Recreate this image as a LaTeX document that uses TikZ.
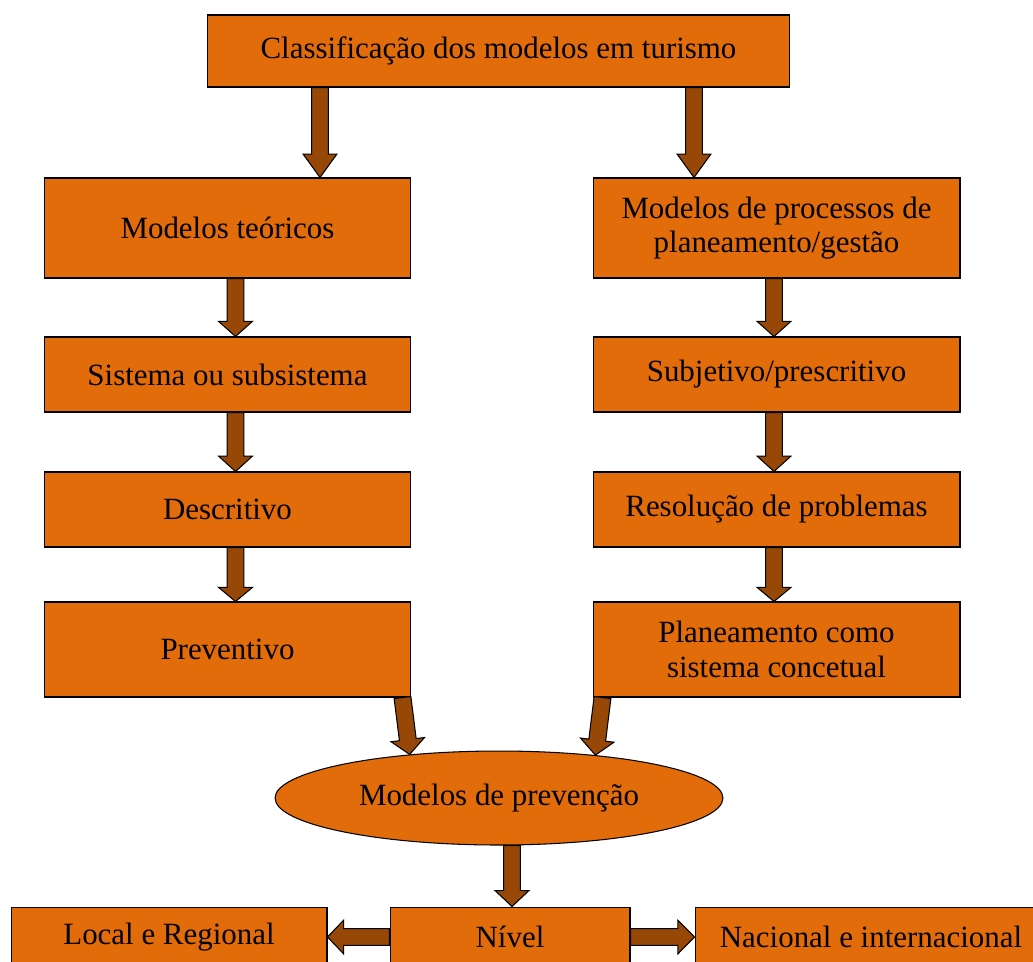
\documentclass[tikz,border=0pt]{standalone}
\usepackage{fontspec}
\setmainfont{Liberation Serif}
\usetikzlibrary{calc,shapes.geometric}

\definecolor{boxorange}{HTML}{E36C0A}
\definecolor{arrowbrown}{HTML}{984806}

\tikzset{
  box/.style={draw=black,line width=0.6pt,fill=boxorange,align=center,
    inner sep=0pt,font=\fontsize{17.6}{19.5}\selectfont},
  fatarrow/.style={draw=black,line width=0.6pt,fill=arrowbrown,line join=miter}
}

% block arrow from #1 to #2
\newcommand\fatarrow[2]{%
  \path[fatarrow] let \p1=(#1), \p2=(#2),
      \n1={atan2(\y2-\y1,\x2-\x1)}, \n2={veclen(\x2-\x1,\y2-\y1)},
      \n3={0.26*\n2} in
    [shift={(\p1)},rotate=\n1]
    (0pt,4.8pt) -- (\n2-\n3,4.8pt) -- (\n2-\n3,9.6pt) -- (\n2,0pt)
    -- (\n2-\n3,-9.6pt) -- (\n2-\n3,-4.8pt) -- (0pt,-4.8pt) -- cycle;}

\begin{document}
\begin{tikzpicture}[x=0.02cm,y=-0.02cm]
      \clip (0,0) rectangle (1033,961);

      \node[box,minimum width=11.66cm,minimum height=1.44cm] (classif) at (498.5,51)
        {Classificação dos modelos em turismo};

      % left column
      \node[box,minimum width=7.34cm,minimum height=2cm] (teoricos) at (227.5,228)
        {Modelos teóricos};
      \node[box,minimum width=7.34cm,minimum height=1.5cm] (sistema) at (227.5,374.5)
        {Sistema ou subsistema};
      \node[box,minimum width=7.34cm,minimum height=1.5cm] (descritivo) at (227.5,509.5)
        {Descritivo};
      \node[box,minimum width=7.34cm,minimum height=1.9cm] (preventivo) at (227.5,649.5)
        {Preventivo};

      % right column
      \node[box,minimum width=7.34cm,minimum height=2cm] (processos) at (776.5,228)
        {Modelos de processos de\\planeamento/gestão};
      \node[box,minimum width=7.34cm,minimum height=1.5cm] (subjetivo) at (776.5,374.5)
        {Subjetivo/prescritivo};
      \node[box,minimum width=7.34cm,minimum height=1.5cm] (resolucao) at (776.5,509.5)
        {Resolução de problemas};
      \node[box,minimum width=7.34cm,minimum height=1.9cm] (planeamento) at (776.5,649.5)
        {Planeamento como\\sistema concetual};

      \node[box,ellipse,minimum width=8.96cm,minimum height=1.88cm] (prevencao) at (499,798)
        {Modelos de prevenção};

      % bottom row
      \node[box,minimum width=6.32cm,minimum height=1.2cm] (local) at (169,937)
        {Local e Regional};
      \node[box,minimum width=4.8cm,minimum height=1.2cm] (nivel) at (510,937)
        {Nível};
      \node[box,minimum width=7.04cm,minimum height=1.2cm] (nacional) at (871,937)
        {Nacional e internacional};

      \coordinate (colA) at (320,0);
      \coordinate (colB) at (694,0);
      \coordinate (colC) at (235.5,0);
      \coordinate (colD) at (774,0);
      \coordinate (colE) at (512,0);

      \fatarrow{classif.south -| colA}{teoricos.north -| colA}
      \fatarrow{classif.south -| colB}{processos.north -| colB}
      \fatarrow{teoricos.south -| colC}{sistema.north -| colC}
      \fatarrow{sistema.south -| colC}{descritivo.north -| colC}
      \fatarrow{descritivo.south -| colC}{preventivo.north -| colC}
      \fatarrow{processos.south -| colD}{subjetivo.north -| colD}
      \fatarrow{subjetivo.south -| colD}{resolucao.north -| colD}
      \fatarrow{resolucao.south -| colD}{planeamento.north -| colD}
      \fatarrow{$(preventivo.south east)+(-9,0)$}{prevencao.154}
      \fatarrow{$(planeamento.south west)+(10,0)$}{prevencao.24}
      \fatarrow{prevencao.south -| colE}{nivel.north -| colE}
      \fatarrow{nivel.west}{local.east}
      \fatarrow{nivel.east}{nacional.west}
\end{tikzpicture}
\end{document}
